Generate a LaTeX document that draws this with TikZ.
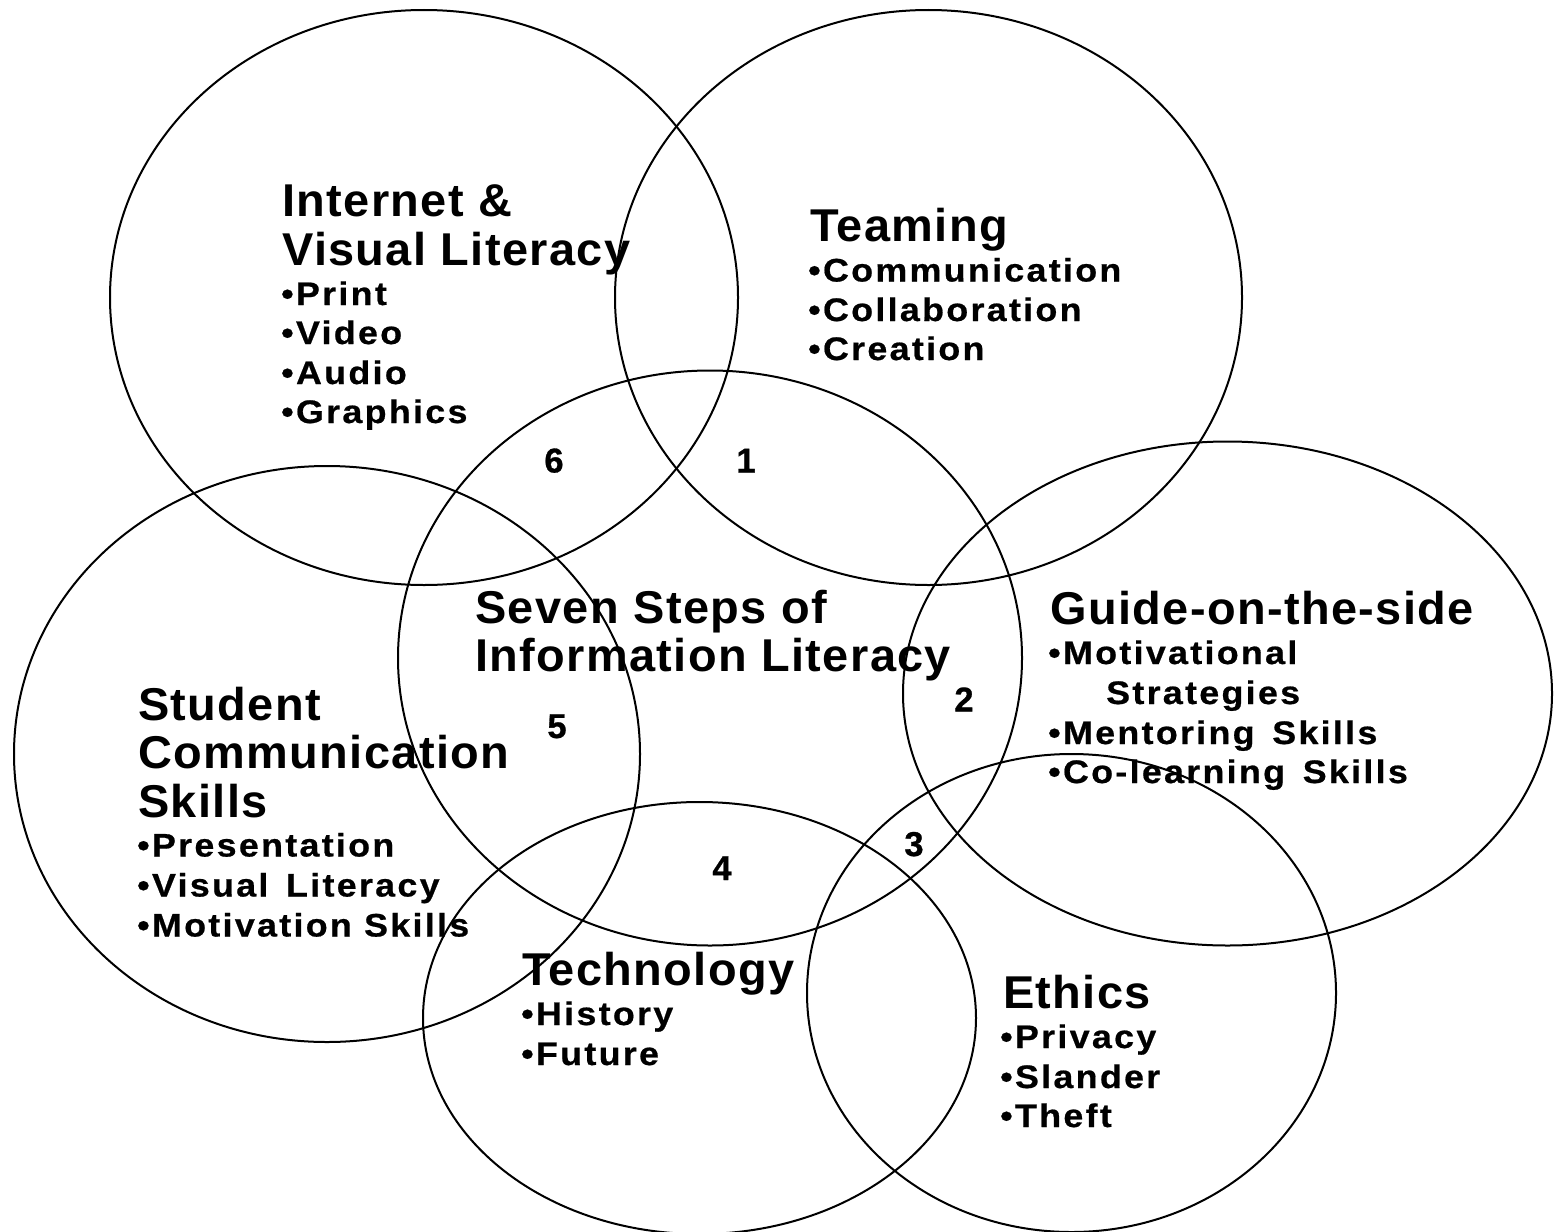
\documentclass[tikz,border=0pt]{standalone}
\usepackage{fontspec}
\setmainfont{Liberation Sans}
\newfontfamily\headfont[LetterSpace=3,FakeStretch=1.02]{Liberation Sans}
\newfontfamily\itemfont[LetterSpace=7,FakeStretch=1.1,FakeBold=0.6]{Liberation Sans}
\newfontfamily\numfont[FakeBold=0.8]{Liberation Sans}
\begin{document}
\begin{tikzpicture}[x=1pt,y=-1pt,
  ring/.style={line width=2pt},
  head/.style={anchor=base west,inner sep=0pt,font=\headfont\bfseries\fontsize{46}{48}\selectfont},
  item/.style={anchor=base west,inner sep=0pt,font=\itemfont\bfseries\fontsize{32.6}{38}\selectfont},
  num/.style={anchor=base,inner sep=0pt,font=\numfont\bfseries\fontsize{34.5}{38}\selectfont}]
\useasboundingbox (0,0) rectangle (1560,1231);

% the seven overlapping rings
\draw[ring] (424,297.5)  ellipse [x radius=314pt,   y radius=287.5pt]; % internet
\draw[ring] (928.5,297.5) ellipse [x radius=313.5pt, y radius=287.5pt]; % teaming
\draw[ring] (710,658)    ellipse [x radius=312pt,   y radius=287.5pt]; % seven steps
\draw[ring] (327,754)    ellipse [x radius=313pt,   y radius=288pt];   % student
\draw[ring] (1227.5,693.5) ellipse [x radius=324.5pt, y radius=252pt]; % guide
\draw[ring] (699.5,1018) ellipse [x radius=276.5pt, y radius=216pt];   % technology
\draw[ring] (1071.5,993) ellipse [x radius=264.5pt, y radius=239pt];   % ethics

% Internet & Visual Literacy
\node[head] (inetA) at (282,216.5) {Internet \&};
\node[head] (inetB) at (282,265) {Visual Literacy};
\node[item] (inet1) at (281,305) {•Print};
\node[item] (inet2) at (281,344) {•Video};
\node[item] (inet3) at (281,384) {•Audio};
\node[item] (inet4) at (281,423) {•Graphics};

% Teaming
\node[head] (teamA) at (810,241.5) {Teaming};
\node[item] (team1) at (808,281.5) {•Communication};
\node[item] (team2) at (808,321) {•Collaboration};
\node[item] (team3) at (808,360) {•Creation};

% Seven Steps of Information Literacy
\node[head] (sevenA) at (475,623.5) {Seven Steps of};
\node[head] (sevenB) at (475,671.5) {Information Literacy};

% Guide-on-the-side
\node[head] (guideA) at (1050,624) {Guide-on-the-side};
\node[item] (guide1) at (1048,664) {•Motivational};
\node[item] (guide1b) at (1106,704) {Strategies};
\node[item] (guide2) at (1048,744) {•Mentoring\, Skills};
\node[item] (guide3) at (1048,783) {•Co-learning\, Skills};

% Student Communication Skills
\node[head] (studA) at (138,720) {Student};
\node[head] (studB) at (138,768.5) {Communication};
\node[head] (studC) at (138,817) {Skills};
\node[item] (stud1) at (137,856.5) {•Presentation};
\node[item] (stud2) at (137,896.5) {•Visual\, Literacy};
\node[item] (stud3) at (137,936.5) {•Motivation Skills};

% Technology
\node[head] (techA) at (522,985) {Technology};
\node[item] (tech1) at (521,1025) {•History};
\node[item] (tech2) at (521,1065) {•Future};

% Ethics
\node[head] (ethA) at (1003,1008) {Ethics};
\node[item] (eth1) at (1000,1048) {•Privacy};
\node[item] (eth2) at (1000,1088) {•Slander};
\node[item] (eth3) at (1000,1127) {•Theft};

% step numbers in the overlaps
\node[num] (n1) at (746,472.5) {1};
\node[num] (n2) at (964,711.5) {2};
\node[num] (n3) at (914,856) {3};
\node[num] (n4) at (722,880) {4};
\node[num] (n5) at (557,738) {5};
\node[num] (n6) at (554,472.5) {6};
\end{tikzpicture}
\end{document}
